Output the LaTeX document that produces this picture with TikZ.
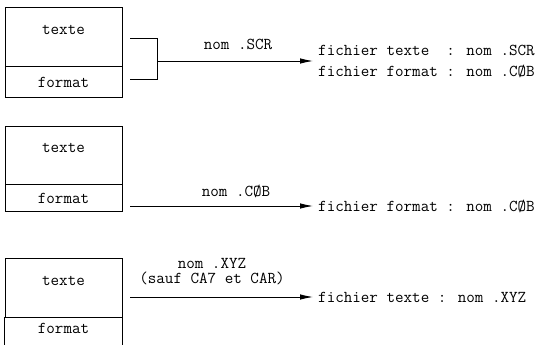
\documentclass[tikz,border=0pt]{standalone}
\usepackage{fontspec}
\newcommand\mono{\ttfamily}
\usepackage{tikz}
\usetikzlibrary{arrows.meta,positioning,calc}

\begin{document}
\begin{tikzpicture}[x=1pt, y=-1pt,
  every node/.style={font=\mono\fontsize{16.6}{21}\selectfont},
  cell/.style={draw, line width=0.9pt, minimum width=117pt, inner sep=0pt},
  link/.style={line width=0.9pt},
  flow/.style={line width=0.9pt, -{Latex[length=13pt,width=5.5pt]}},
  dest/.style={anchor=west, align=left, inner sep=5pt}
]
  \useasboundingbox (0,0) rectangle (541,345);

  % Bloc 1 : texte + format
  \node[cell, minimum height=59pt] (t1) at (63.5,36.5) {};
  \node[cell, minimum height=31pt] (f1) at (63.5,81.5) {};
  \node (t1l) at (63.5,30) {texte};
  \node (f1l) at (63.5,82) {format};

  % Accolade
  \coordinate (b1) at (130,38);
  \coordinate (b2) at (157,38);
  \coordinate (b3) at (157,79);
  \coordinate (b4) at (130,79);
  \coordinate (bm) at (157,61);
  \draw[link] (b1) -- (b2) -- (b3) -- (b4);

  \node[dest] (x1) at (313,62) {fichier texte\ \ : nom .SCR\\fichier format : nom .CØB};
  \draw[flow] (bm) -- (bm -| x1.west);
  \node (n1) at (238,44) {nom .SCR};

  % Bloc 2
  \node[cell, minimum height=58pt] (t2) at (63.5,155) {};
  \node[cell, minimum height=27pt] (f2) at (63.5,197.5) {};
  \node (t2l) at (63.5,148) {texte};
  \node (f2l) at (63.5,198) {format};

  \coordinate (a2) at (130,206);
  \node[dest] (x2) at (313,206) {fichier format : nom .CØB};
  \draw[flow] (a2) -- (a2 -| x2.west);
  \node (n2) at (236,191) {nom .CØB};

  % Bloc 3 (coupé en bas)
  \node[cell, minimum height=59pt] (t3) at (63.5,287.5) {};
  \draw[link] (t3.south west) -- ++(0,28);
  \draw[link] (t3.south east) -- ++(0,28);
  \node (t3l) at (63.5,281) {texte};
  \node (f3l) at (63.5,328) {format};

  \coordinate (a3) at (130,297);
  \node[dest] (x3) at (313,297) {fichier texte : nom .XYZ};
  \draw[flow] (a3) -- (a3 -| x3.west);
  \node[align=center, font=\mono\fontsize{16.6}{15}\selectfont] (n3) at (212,272) {nom .XYZ\\(sauf CA7 et CAR)};
\end{tikzpicture}
\end{document}
